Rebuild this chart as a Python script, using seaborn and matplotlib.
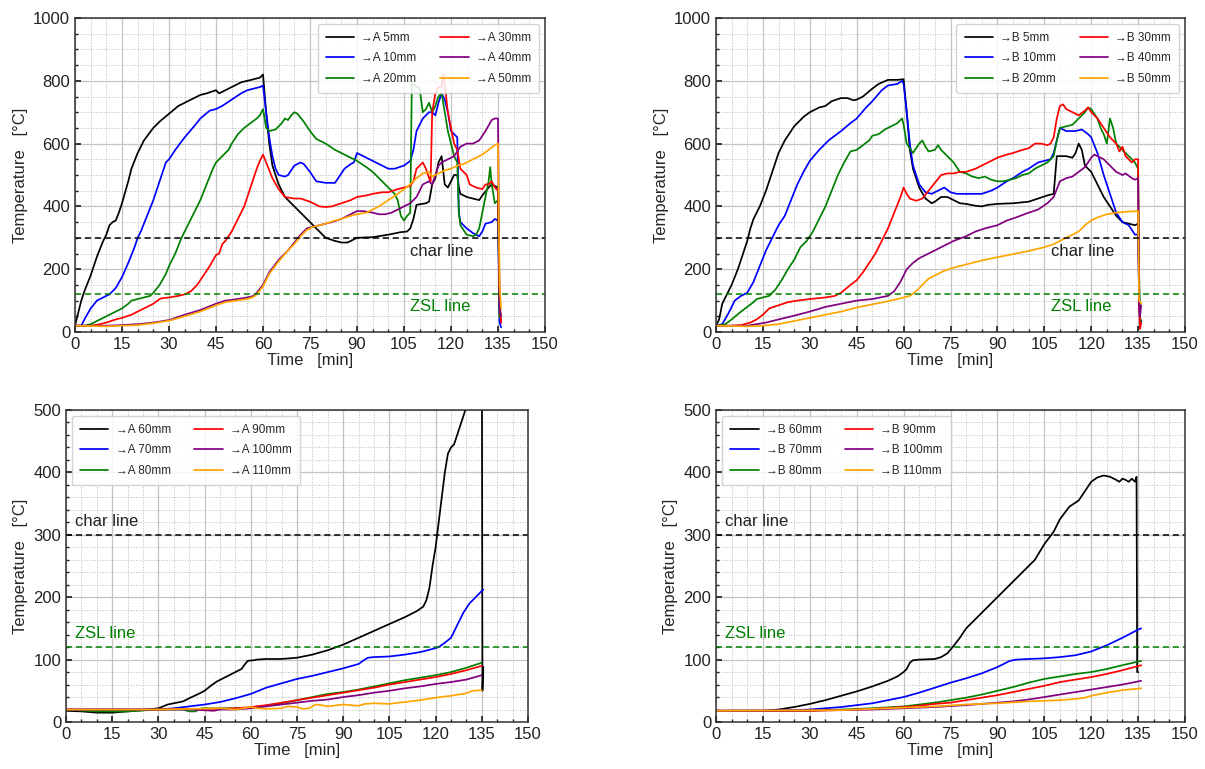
import numpy as np
import pandas as pd
import matplotlib
matplotlib.use("Agg")
import matplotlib.pyplot as plt
import seaborn as sns
from matplotlib.ticker import MultipleLocator

# ---- data (time in min, temperature in degC) ----
# Panel A, 5-50 mm
a5_t = [0, 1, 2, 3, 5, 7, 9, 10, 11, 12, 13, 14, 15, 17, 18, 20, 22, 25, 27, 30, 33, 36, 40, 42, 45, 46, 47, 50, 53, 55, 57, 59, 60,
        61, 62, 63, 65, 67, 70, 72, 75, 78, 80, 83, 85, 87, 89, 90, 95, 100, 104, 106, 107, 108, 109, 112, 113, 114, 115, 116, 117,
        118, 119, 120, 121, 122, 122.5, 123, 125, 127, 129, 130, 132, 133, 134, 135, 135.5, 136]
a5_T = [20, 60, 100, 130, 180, 240, 290, 310, 340, 350, 355, 380, 410, 480, 520, 570, 610, 650, 670, 695, 720, 735, 755, 760, 770, 760, 765, 780, 795, 800, 805, 810, 820,
        700, 600, 530, 470, 430, 400, 380, 350, 320, 300, 290, 285, 285, 295, 300, 302, 310, 318, 320, 330, 360, 405, 410, 415, 470, 490, 540, 560,
        470, 460, 480, 500, 500, 460, 440, 430, 425, 420, 435, 460, 470, 465, 460, 60, 30]
a10_t = [0, 2, 3, 5, 7, 9, 11, 13, 15, 17, 19, 20, 21, 23, 25, 27, 29, 30, 32, 35, 38, 40, 43, 45, 47, 50, 53, 55, 57, 59, 60,
         61, 62, 63, 64, 65, 67, 68, 70, 72, 73, 75, 77, 80, 83, 84, 86, 88, 89, 90, 91, 93, 95, 97, 100, 102, 105, 107, 108, 109,
         111, 113, 114, 115, 116, 117, 118, 119, 120, 121, 122, 122.5, 123, 125, 127, 129, 130, 131, 133, 134, 135, 135.5, 136]
a10_T = [20, 20, 40, 75, 100, 110, 120, 140, 175, 220, 270, 300, 320, 370, 420, 480, 540, 550, 580, 620, 655, 680, 705, 710, 720, 740, 760, 770, 775, 780, 785,
         700, 620, 560, 520, 500, 495, 500, 530, 540, 535, 510, 480, 475, 475, 490, 520, 535, 540, 570, 565, 555, 545, 535, 520, 520, 530, 545, 580, 640,
         680, 700, 700, 690, 730, 760, 740, 700, 640, 630, 620, 380, 350, 330, 315, 305, 320, 345, 350, 360, 355, 30, 15]
a20_t = [0, 3, 5, 8, 10, 13, 15, 17, 18, 20, 22, 24, 25, 27, 29, 30, 32, 34, 36, 38, 40, 42, 44, 45, 47, 49, 50, 52, 54, 56, 58, 59, 60,
         61, 62, 64, 66, 67, 68, 69, 70, 71, 73, 75, 77, 78, 80, 83, 85, 87, 90, 93, 95, 98, 100, 102, 103, 104, 105, 106, 107,
         107.5, 108, 110, 111, 112, 113, 114, 115, 116, 117, 118, 119, 120, 121, 122, 122.5, 123, 125, 127, 128, 129, 130, 131,
         132, 132.5, 133, 134, 135, 135.5, 136]
a20_T = [20, 20, 25, 40, 50, 65, 75, 90, 100, 105, 110, 115, 125, 150, 185, 210, 250, 300, 340, 380, 420, 470, 520, 540, 560, 580, 600, 630, 650, 665, 680, 690, 710,
         650, 640, 645, 665, 680, 675, 690, 700, 695, 670, 640, 615, 610, 600, 580, 570, 560, 545, 525, 510, 480, 460, 440, 420, 370, 355, 370, 380,
         790, 790, 775, 700, 710, 730, 700, 720, 750, 760, 700, 640, 600, 560, 540, 380, 340, 310, 305, 310, 330, 380, 430,
         480, 525, 470, 410, 420, 50, 40]
a30_t = [0, 5, 8, 10, 13, 15, 18, 20, 23, 25, 27, 28, 30, 33, 35, 37, 39, 41, 43, 45, 46, 47, 48, 50, 52, 54, 56, 58, 59, 60,
         61, 63, 65, 67, 70, 72, 75, 78, 80, 82, 85, 88, 90, 93, 95, 98, 100, 103, 105, 107, 108, 109, 111, 112, 113, 113.5,
         114, 115, 116, 117, 117.5, 118, 119, 120, 121, 122, 123, 124, 125, 126, 128, 130, 131, 132, 133, 134, 135, 135.5, 136]
a30_T = [20, 20, 25, 30, 40, 45, 55, 65, 80, 90, 105, 108, 110, 115, 120, 130, 150, 180, 210, 245, 250, 280, 290, 320, 360, 400, 460, 520, 545, 565,
         540, 490, 455, 430, 425, 425, 415, 400, 398, 400, 410, 420, 430, 435, 440, 445, 445, 455, 460, 465, 480, 520, 540, 520, 490, 480,
         700, 760, 780, 780, 820, 790, 700, 650, 600, 580, 520, 510, 500, 470, 460, 455, 470, 470, 480, 460, 450, 100, 30]
a40_t = [0, 10, 15, 20, 25, 30, 35, 40, 45, 48, 50, 55, 57, 58, 60, 62, 65, 68, 70, 72, 74, 76, 78, 80, 82, 85, 88, 90, 92, 95, 97, 99,
         101, 103, 105, 107, 109, 111, 113, 114, 115, 116, 117, 119, 121, 123, 125, 127, 129, 131, 133, 134, 135, 135.5, 136]
a40_T = [20, 20, 22, 25, 30, 38, 55, 70, 90, 100, 102, 110, 115, 125, 150, 190, 230, 260, 285, 310, 330, 335, 340, 345, 350, 360, 375, 385, 385, 380, 375, 375,
         380, 390, 400, 410, 430, 470, 480, 470, 500, 530, 540, 550, 560, 590, 600, 600, 610, 640, 675, 680, 680, 80, 50]
a50_t = [0, 10, 15, 20, 25, 30, 35, 40, 45, 48, 50, 55, 57, 58, 60, 62, 65, 68, 70, 72, 74, 76, 78, 80, 83, 85, 88, 90, 93, 95, 97, 100,
         103, 105, 107, 109, 111, 113, 114, 116, 118, 120, 122, 124, 126, 128, 130, 132, 134, 135, 135.5, 136]
a50_T = [20, 18, 20, 22, 28, 36, 50, 65, 85, 95, 98, 105, 112, 120, 145, 185, 225, 260, 280, 305, 325, 335, 340, 345, 355, 360, 370, 375, 380, 390, 400, 420,
         440, 455, 470, 490, 505, 510, 495, 505, 515, 520, 530, 535, 545, 555, 565, 580, 595, 600, 150, 75]

# Panel B, 5-50 mm
b5_t = [0, 1, 2, 3, 5, 7, 9, 10, 11, 12, 14, 16, 18, 20, 22, 25, 28, 30, 33, 35, 37, 40, 42, 44, 45, 47, 50, 52, 55, 58, 60,
        61, 62, 63, 65, 67, 69, 70, 72, 74, 76, 78, 80, 83, 85, 87, 90, 95, 100, 103, 106, 108, 109, 110, 112, 114, 115, 116,
        117, 118, 120, 122, 124, 126, 128, 130, 132, 134, 135, 135.5, 136]
b5_T = [20, 40, 90, 110, 150, 200, 260, 290, 330, 360, 400, 450, 510, 570, 610, 655, 685, 700, 715, 720, 735, 745, 745, 738, 740, 750, 775, 790, 803, 803, 805,
        700, 580, 520, 460, 425, 410, 415, 430, 430, 420, 410, 408, 402, 400, 405, 408, 410, 415, 425, 435, 440, 560, 560, 560, 555, 570, 600,
        580, 530, 510, 470, 430, 400, 370, 350, 345, 340, 345, 50, 30]
b10_t = [0, 2, 4, 6, 8, 10, 12, 14, 16, 18, 20, 22, 24, 26, 28, 30, 33, 36, 40, 43, 45, 48, 50, 53, 55, 58, 59.5, 60,
         61, 62, 63, 65, 67, 69, 71, 73, 75, 77, 80, 85, 88, 90, 93, 95, 98, 100, 103, 105, 107, 108, 109, 110, 112, 115, 117,
         119, 120, 122, 124, 126, 128, 130, 132, 134, 135, 135.3, 135.6, 136]
b10_T = [20, 25, 60, 100, 115, 125, 160, 210, 260, 300, 340, 370, 420, 470, 510, 545, 580, 610, 640, 665, 680, 715, 735, 770, 785, 790, 800, 790,
         700, 600, 530, 470, 445, 440, 450, 460, 445, 440, 440, 440, 450, 460, 480, 490, 510, 520, 540, 545, 550, 570, 610, 650, 640, 640, 645,
         630, 620, 570, 500, 440, 380, 350, 340, 310, 310, 120, 40, 30]
b20_t = [0, 3, 5, 8, 10, 12, 13, 15, 17, 19, 21, 23, 25, 27, 29, 31, 33, 35, 37, 39, 41, 43, 45, 47, 49, 50, 52, 54, 56, 58, 59.5,
         60, 61, 63, 65, 66, 67, 68, 70, 71, 72, 74, 76, 78, 80, 82, 84, 86, 88, 90, 92, 94, 96, 98, 100, 102, 104, 106, 108, 109,
         110, 112, 114, 116, 118, 119, 120, 122, 123, 124, 125, 126, 127, 128, 130, 132, 134, 135, 135.3, 135.6, 136]
b20_T = [20, 25, 40, 65, 80, 95, 105, 110, 115, 135, 165, 200, 230, 270, 290, 320, 360, 400, 450, 500, 540, 575, 580, 595, 610, 625, 630, 645, 655, 665, 680,
         660, 600, 570, 600, 610, 590, 575, 580, 595, 580, 560, 540, 510, 505, 495, 490, 495, 485, 480, 480, 485, 490, 500, 505, 520, 530, 540, 560, 610,
         650, 655, 660, 680, 700, 715, 710, 680, 650, 630, 600, 680, 650, 600, 580, 560, 540, 520, 200, 40, 30]
b30_t = [0, 5, 8, 11, 13, 15, 17, 20, 23, 26, 30, 35, 38, 40, 43, 45, 47, 49, 51, 53, 55, 57, 59, 60,
         61, 62, 64, 66, 68, 70, 72, 74, 76, 78, 80, 83, 85, 88, 90, 93, 95, 98, 100, 102, 104, 106, 107, 108, 109, 110, 111,
         112, 114, 116, 118, 119, 120, 122, 124, 126, 128, 129, 130, 131, 133, 134, 135, 135.3, 135.6, 136]
b30_T = [20, 20, 22, 30, 40, 55, 75, 85, 95, 100, 105, 110, 115, 125, 150, 165, 190, 220, 250, 290, 330, 380, 430, 460,
         440, 425, 418, 425, 450, 475, 500, 505, 505, 510, 510, 520, 530, 545, 555, 565, 570, 580, 585, 600, 600, 595, 600, 620, 680, 720, 725,
         710, 700, 690, 705, 715, 700, 680, 650, 620, 600, 575, 590, 560, 540, 550, 550, 100, 10, 30]
b40_t = [0, 10, 13, 16, 20, 25, 30, 35, 40, 45, 50, 55, 57, 59, 61, 63, 65, 67, 70, 73, 76, 80, 83, 86, 90, 93, 96, 100, 103, 106, 108,
         110, 112, 114, 116, 118, 120, 121, 122, 124, 126, 128, 130, 131, 133, 134, 135, 135.3, 135.6, 136]
b40_T = [20, 20, 25, 30, 40, 52, 65, 80, 90, 100, 105, 115, 130, 160, 200, 220, 235, 245, 260, 275, 290, 305, 320, 330, 340, 355, 365, 380, 390, 410, 430,
         480, 490, 495, 510, 525, 555, 565, 560, 550, 530, 510, 500, 505, 490, 485, 490, 90, 50, 85]
b50_t = [0, 10, 15, 20, 25, 30, 35, 40, 45, 50, 55, 58, 60, 62, 64, 66, 68, 70, 73, 76, 80, 85, 90, 95, 100, 105, 108, 110, 113, 116,
         118, 120, 122, 125, 128, 131, 135, 135.3, 136]
b50_T = [20, 18, 20, 25, 35, 45, 55, 65, 78, 88, 98, 105, 110, 115, 130, 150, 170, 180, 195, 205, 215, 228, 238, 248, 258, 270, 280, 290, 305, 320,
         340, 355, 365, 375, 380, 383, 385, 100, 90]

# Panel A, 60-110 mm
a60_t = [0, 5, 10, 15, 20, 25, 30, 33, 35, 38, 40, 43, 45, 47, 49, 51, 53, 55, 57, 58, 59, 61, 62, 65, 70, 75, 80, 85, 90, 95, 100,
         105, 110, 114, 116, 117, 118, 119, 120, 121, 122, 123, 124, 125, 126, 127, 128, 129, 130, 132, 135, 135.2, 135.5]
a60_T = [18, 17, 15, 15, 17, 19, 22, 28, 30, 33, 38, 45, 50, 58, 65, 70, 75, 80, 85, 92, 98, 99, 100, 101, 101, 103, 108, 115, 124, 135, 146,
         157, 168, 178, 185, 195, 215, 250, 280, 320, 360, 400, 430, 440, 445, 460, 475, 490, 505, 560, 650, 50, 88]
a70_t = [0, 10, 20, 30, 35, 40, 45, 50, 55, 60, 65, 70, 75, 80, 85, 90, 95, 97, 98, 100, 105, 110, 115, 119, 121, 123, 125, 127, 129, 131, 133, 135, 135.5]
a70_T = [20, 20, 20, 20, 22, 25, 28, 32, 38, 45, 55, 62, 69, 74, 80, 86, 93, 100, 103, 104, 105, 108, 112, 117, 120, 127, 135, 155, 175, 190, 200, 210, 212]
a80_t = [0, 10, 20, 30, 38, 40, 42, 44, 50, 55, 60, 65, 70, 75, 80, 85, 90, 95, 100, 105, 110, 115, 120, 125, 130, 135]
a80_T = [20, 17, 17, 20, 20, 17, 17, 22, 22, 22, 23, 26, 30, 35, 40, 45, 48, 52, 57, 62, 67, 71, 75, 80, 87, 95]
a90_t = [0, 10, 20, 30, 40, 50, 55, 60, 65, 70, 75, 80, 85, 90, 95, 100, 105, 110, 115, 120, 125, 130, 135]
a90_T = [20, 20, 20, 20, 21, 21, 22, 24, 27, 31, 35, 39, 43, 47, 51, 55, 60, 64, 68, 72, 77, 83, 90]
a100_t = [0, 10, 20, 30, 40, 48, 50, 55, 60, 65, 70, 75, 80, 85, 90, 95, 100, 105, 110, 115, 120, 125, 130, 135]
a100_T = [20, 20, 20, 20, 20, 18, 20, 20, 22, 25, 28, 31, 34, 36, 40, 43, 47, 50, 54, 57, 61, 64, 68, 75]
a110_t = [0, 10, 20, 30, 40, 50, 55, 60, 62, 65, 70, 72, 75, 77, 79, 81, 83, 85, 90, 95, 97, 100, 105, 108, 110, 115, 120, 125, 130, 132, 135]
a110_T = [20, 20, 20, 20, 21, 22, 20, 24, 22, 21, 22, 25, 24, 21, 22, 28, 27, 25, 28, 26, 29, 30, 29, 31, 32, 35, 39, 42, 46, 50, 51]

# Panel B, 60-110 mm
b60_t = [0, 15, 18, 20, 25, 30, 35, 40, 45, 50, 55, 58, 60, 61, 62, 63, 65, 70, 72, 74, 76, 78, 80, 85, 90, 95, 100, 102, 105, 108,
         110, 113, 116, 118, 120, 122, 124, 126, 128, 129, 130, 131, 132, 133, 134, 134.5, 134.7, 135]
b60_T = [18, 18, 19, 20, 24, 29, 35, 42, 49, 57, 66, 73, 80, 85, 95, 99, 100, 101, 104, 110, 122, 135, 150, 175, 200, 225, 250, 260, 285, 305,
         325, 345, 355, 370, 385, 392, 395, 393, 388, 385, 390, 388, 385, 390, 385, 393, 80, 80]
b70_t = [0, 20, 30, 40, 45, 50, 55, 60, 65, 70, 75, 80, 85, 90, 94, 96, 100, 105, 110, 115, 120, 125, 130, 135, 136]
b70_T = [18, 18, 20, 24, 27, 30, 35, 40, 47, 55, 63, 70, 78, 88, 98, 100, 101, 102, 104, 107, 113, 123, 135, 148, 150]
b80_t = [0, 30, 40, 50, 60, 65, 70, 75, 80, 85, 90, 95, 100, 105, 110, 115, 120, 125, 130, 136]
b80_T = [18, 18, 20, 22, 25, 28, 31, 35, 39, 44, 50, 56, 63, 69, 73, 77, 80, 85, 91, 98]
b90_t = [0, 30, 40, 50, 60, 65, 70, 75, 80, 85, 90, 95, 100, 105, 110, 115, 120, 125, 130, 136]
b90_T = [18, 18, 19, 21, 24, 26, 29, 31, 35, 39, 43, 48, 53, 58, 64, 68, 72, 77, 83, 91]
b100_t = [0, 40, 50, 60, 70, 80, 90, 95, 100, 105, 110, 115, 120, 125, 130, 136]
b100_T = [18, 19, 20, 22, 24, 27, 31, 33, 36, 40, 44, 48, 52, 56, 60, 66]
b110_t = [0, 40, 50, 60, 70, 80, 90, 100, 105, 110, 115, 118, 120, 125, 130, 136]
b110_T = [18, 19, 21, 23, 25, 28, 30, 33, 34, 35, 37, 39, 42, 47, 51, 54]

colors = ["black", "blue", "green", "red", "purple", "orange"]
depths_top = ["5mm", "10mm", "20mm", "30mm", "40mm", "50mm"]
depths_bot = ["60mm", "70mm", "80mm", "90mm", "100mm", "110mm"]

panels = [
    ("A", depths_top, [(a5_t, a5_T), (a10_t, a10_T), (a20_t, a20_T), (a30_t, a30_T), (a40_t, a40_T), (a50_t, a50_T)]),
    ("B", depths_top, [(b5_t, b5_T), (b10_t, b10_T), (b20_t, b20_T), (b30_t, b30_T), (b40_t, b40_T), (b50_t, b50_T)]),
    ("A", depths_bot, [(a60_t, a60_T), (a70_t, a70_T), (a80_t, a80_T), (a90_t, a90_T), (a100_t, a100_T), (a110_t, a110_T)]),
    ("B", depths_bot, [(b60_t, b60_T), (b70_t, b70_T), (b80_t, b80_T), (b90_t, b90_T), (b100_t, b100_T), (b110_t, b110_T)]),
]

sns.set_theme(style="white")
plt.rcParams['font.family'] = ['Liberation Sans Narrow', 'Liberation Sans', 'DejaVu Sans']

fig = plt.figure(figsize=(12.05, 7.69), dpi=100)
rects = [
    [75 / 1205, 437 / 769, 470 / 1205, 314 / 769],
    [716 / 1205, 437 / 769, 469 / 1205, 314 / 769],
    [66 / 1205, 47 / 769, 462 / 1205, 312 / 769],
    [716 / 1205, 47 / 769, 469 / 1205, 312 / 769],
]

for i, (side, depths, series) in enumerate(panels):
    ax = fig.add_axes(rects[i])
    for (t, T), d, c in zip(series, depths, colors):
        df = pd.DataFrame({"t": t, "T": T})
        sns.lineplot(data=df, x="t", y="T", ax=ax, color=c, lw=1.25, sort=False,
                     estimator=None, label="\u2192" + side + " " + d)

    top = i < 2
    ax.axhline(300, color="black", ls="--", lw=1.1, dashes=(4, 2.5))
    ax.axhline(120, color="green", ls="--", lw=1.1, dashes=(4, 2.5))
    if top:
        ax.text(107, 255, "char line", color="#222222", fontsize=12, va="center")
        ax.text(107, 82, "ZSL line", color="green", fontsize=12, va="center")
        ax.set_ylim(0, 1000)
        ax.yaxis.set_major_locator(MultipleLocator(200))
        ax.yaxis.set_minor_locator(MultipleLocator(50))
        legloc = "upper right"
    else:
        ax.text(3, 310, "char line", color="#222222", fontsize=12, va="bottom")
        ax.text(3, 130, "ZSL line", color="green", fontsize=12, va="bottom")
        ax.set_ylim(0, 500)
        ax.yaxis.set_major_locator(MultipleLocator(100))
        ax.yaxis.set_minor_locator(MultipleLocator(20))
        legloc = "upper left"

    ax.set_xlim(0, 150)
    ax.xaxis.set_major_locator(MultipleLocator(15))
    ax.xaxis.set_minor_locator(MultipleLocator(5))
    ax.grid(which="major", color="#c4c4c4", lw=0.9, ls="-")
    ax.grid(which="minor", color="#bbbbbb", lw=0.7, ls=":")
    ax.set_axisbelow(True)
    ax.tick_params(which="both", direction="in", left=True, bottom=True, labelsize=12, colors="#222222")
    ax.tick_params(which="major", length=4)
    ax.tick_params(which="minor", length=2.5)
    for s in ax.spines.values():
        s.set_color("#333333")
        s.set_linewidth(1.1)
    ax.set_xlabel("Time   [min]", fontsize=12, labelpad=1)
    ax.set_ylabel("Temperature   [\u00b0C]", fontsize=12, labelpad=4)
    ax.legend(loc=legloc, ncol=2, fontsize=8.5, handlelength=2.4, handletextpad=0.6,
              columnspacing=2.0, framealpha=0.85, borderpad=0.7, labelspacing=0.7)

plt.savefig("out.png", dpi=100)
